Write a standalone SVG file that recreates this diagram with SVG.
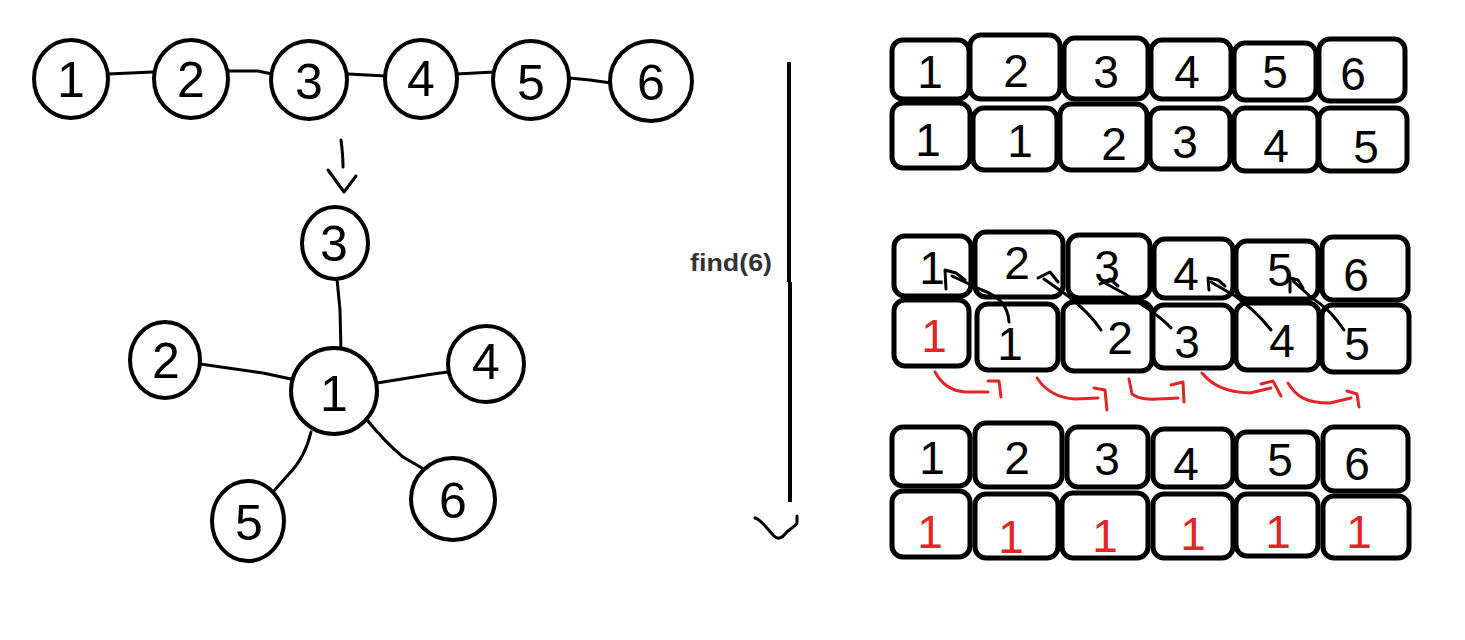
<svg xmlns="http://www.w3.org/2000/svg" width="1465" height="640" viewBox="0 0 1465 640">
<style>
.n{fill:#fff;stroke:#000;stroke-width:4}
.b{fill:#fff;stroke:#000;stroke-width:5}
.d{font-family:"Liberation Sans",Arial,sans-serif;font-size:50px;fill:#000;text-anchor:middle}
.t{font-family:"Liberation Sans",Arial,sans-serif;font-size:46px;fill:#000;text-anchor:middle}
.r{fill:#e42525}
.c{fill:none;stroke:#000;stroke-width:3;stroke-linecap:round;stroke-linejoin:round}
.rc{fill:none;stroke:#e42525;stroke-width:3;stroke-linecap:round;stroke-linejoin:round}
</style>
<rect width="1465" height="640" fill="#fff"/>
<g id="connectors">
<path class="c" d="M108,74 L153,72"/>
<path class="c" d="M229,71 L258,71 L272,74"/>
<path class="c" d="M348,74 L386,76"/>
<path class="c" d="M457,74 L494,72"/>
<path class="c" d="M569,78 L590,80 L611,83"/>
<path class="c" d="M341,140 Q343,155 343,167"/>
<path class="c" d="M328,170 L344,192 L356,176"/>
<path class="c" d="M337,279 L340,310 L341,352"/>
<path class="c" d="M200,364 L263,373 L291,379"/>
<path class="c" d="M377,383 L433,374 L448,372"/>
<path class="c" d="M311,432 Q305,458 288,475 L272,493"/>
<path class="c" d="M368,421 Q385,442 403,457 L422,468"/>
<path d="M789,62 L789,282 M790,282 L790,502" fill="none" stroke="#000" stroke-width="4"/>
<path class="c" d="M755,518 C762,520 768,530 774,536 C778,540 782,538 786,533 C790,528 794,528 797,523 L797,516"/>
</g>
<g id="label-find">
<text x="690" y="271" font-family="Liberation Sans,Arial,sans-serif" font-size="24" font-weight="bold" fill="#333" textLength="82" lengthAdjust="spacingAndGlyphs">find(6)</text>
</g>
<g id="chain">
<g id="chain-1"><ellipse class="n" cx="71" cy="79" rx="37" ry="39"/><text class="d" x="71" y="97">1</text></g>
<g id="chain-2"><ellipse class="n" cx="191" cy="79" rx="37" ry="39"/><text class="d" x="191" y="97">2</text></g>
<g id="chain-3"><ellipse class="n" cx="309" cy="80" rx="38" ry="39"/><text class="d" x="309" y="99">3</text></g>
<g id="chain-4"><ellipse class="n" cx="421" cy="79" rx="36" ry="39"/><text class="d" x="421" y="96">4</text></g>
<g id="chain-5"><ellipse class="n" cx="531" cy="80" rx="38" ry="39"/><text class="d" x="531" y="100">5</text></g>
<g id="chain-6"><ellipse class="n" cx="651" cy="81" rx="41" ry="40"/><text class="d" x="651" y="100">6</text></g>
</g>
<g id="tree">
<g id="tree-3"><ellipse class="n" cx="335" cy="243" rx="33" ry="36"/><text class="d" x="334" y="261">3</text></g>
<g id="tree-2"><ellipse class="n" cx="165" cy="360" rx="35" ry="38"/><text class="d" x="166" y="378">2</text></g>
<g id="tree-1"><ellipse class="n" cx="334" cy="391" rx="43" ry="43"/><text class="d" x="334" y="411">1</text></g>
<g id="tree-4"><ellipse class="n" cx="486" cy="364" rx="38" ry="38"/><text class="d" x="486" y="379">4</text></g>
<g id="tree-5"><ellipse class="n" cx="248" cy="521" rx="36" ry="40"/><text class="d" x="249" y="540">5</text></g>
<g id="tree-6"><ellipse class="n" cx="453" cy="499" rx="42" ry="41"/><text class="d" x="453" y="518">6</text></g>
</g>
<g id="table-1">
<g id="t1-a1"><rect class="b" x="892" y="40" width="77" height="59" rx="11"/><text class="t" x="930" y="88">1</text></g>
<g id="t1-a2"><rect class="b" x="970" y="35" width="90" height="64" rx="11"/><text class="t" x="1016" y="87">2</text></g>
<g id="t1-a3"><rect class="b" x="1064" y="38" width="84" height="61" rx="11"/><text class="t" x="1106" y="88">3</text></g>
<g id="t1-a4"><rect class="b" x="1151" y="40" width="80" height="59" rx="11"/><text class="t" x="1187" y="88">4</text></g>
<g id="t1-a5"><rect class="b" x="1234" y="43" width="82" height="57" rx="11"/><text class="t" x="1275" y="88">5</text></g>
<g id="t1-a6"><rect class="b" x="1319" y="39" width="86" height="62" rx="11"/><text class="t" x="1353" y="90">6</text></g>
<g id="t1-b1"><rect class="b" x="892" y="103" width="78" height="65" rx="11"/><text class="t" x="928" y="156">1</text></g>
<g id="t1-b2"><rect class="b" x="973" y="108" width="84" height="62" rx="11"/><text class="t" x="1020" y="157">1</text></g>
<g id="t1-b3"><rect class="b" x="1060" y="104" width="87" height="66" rx="11"/><text class="t" x="1114" y="160">2</text></g>
<g id="t1-b4"><rect class="b" x="1150" y="108" width="80" height="61" rx="11"/><text class="t" x="1185" y="158">3</text></g>
<g id="t1-b5"><rect class="b" x="1234" y="108" width="84" height="63" rx="11"/><text class="t" x="1276" y="162">4</text></g>
<g id="t1-b6"><rect class="b" x="1319" y="108" width="88" height="63" rx="11"/><text class="t" x="1366" y="163">5</text></g>
</g>
<g id="table-2">
<g id="t2-a1"><rect class="b" x="894" y="236" width="77" height="60" rx="11"/><text class="t" x="932" y="284">1</text></g>
<g id="t2-a2"><rect class="b" x="975" y="232" width="88" height="65" rx="11"/><text class="t" x="1017" y="279">2</text></g>
<g id="t2-a3"><rect class="b" x="1068" y="235" width="82" height="63" rx="11"/><text class="t" x="1107" y="283">3</text></g>
<g id="t2-a4"><rect class="b" x="1154" y="239" width="79" height="59" rx="11"/><text class="t" x="1186" y="290">4</text></g>
<g id="t2-a5"><rect class="b" x="1236" y="241" width="82" height="58" rx="11"/><text class="t" x="1280" y="286">5</text></g>
<g id="t2-a6"><rect class="b" x="1322" y="237" width="86" height="63" rx="11"/><text class="t" x="1356" y="291">6</text></g>
<g id="t2-b1"><rect class="b" x="894" y="300" width="75" height="66" rx="11"/><text class="t r" x="934" y="352">1</text></g>
<g id="t2-b2"><rect class="b" x="977" y="304" width="81" height="66" rx="11"/><text class="t" x="1010" y="360">1</text></g>
<g id="t2-b3"><rect class="b" x="1063" y="302" width="89" height="69" rx="11"/><text class="t" x="1120" y="354">2</text></g>
<g id="t2-b4"><rect class="b" x="1153" y="305" width="80" height="63" rx="11"/><text class="t" x="1187" y="358">3</text></g>
<g id="t2-b5"><rect class="b" x="1236" y="303" width="83" height="67" rx="11"/><text class="t" x="1282" y="357">4</text></g>
<g id="t2-b6"><rect class="b" x="1322" y="305" width="87" height="67" rx="11"/><text class="t" x="1357" y="360">5</text></g>
<g id="t2-links">
<path class="c" d="M1009,322 C1008,305 998,296 982,290 L952,276"/>
<path class="c" d="M946,289 L945,270 L956,273 L965,280"/>
<path class="c" d="M1101,330 C1093,318 1082,307 1068,296 L1044,279"/>
<path class="c" d="M1038,278 L1050,272 L1058,282"/>
<path class="c" d="M1171,328 C1160,316 1145,306 1125,294 L1105,283"/>
<path class="c" d="M1100,284 L1110,279 L1118,286"/>
<path class="c" d="M1271,330 C1260,316 1248,305 1235,296 L1211,282"/>
<path class="c" d="M1209,290 L1208,278 L1218,280 L1225,286"/>
<path class="c" d="M1344,330 C1336,318 1325,306 1312,298 L1293,281"/>
<path class="c" d="M1290,292 L1290,278 L1298,280 L1303,288"/>
</g>
<g id="t2-moves">
<path class="rc" d="M935,372 C942,385 952,391 965,392 L988,392"/>
<path class="rc" d="M988,381 L999,381 L1001,397"/>
<path class="rc" d="M1037,378 C1045,390 1058,398 1075,399 L1098,398"/>
<path class="rc" d="M1094,388 L1105,390 L1107,410"/>
<path class="rc" d="M1129,379 L1132,394 C1140,400 1150,400 1178,398"/>
<path class="rc" d="M1171,385 L1183,382 L1184,402"/>
<path class="rc" d="M1202,373 C1212,385 1225,392 1250,393 L1271,388"/>
<path class="rc" d="M1261,384 L1273,381 L1281,396"/>
<path class="rc" d="M1288,383 C1296,396 1305,403 1330,403 L1351,398"/>
<path class="rc" d="M1347,391 L1357,394 L1359,407"/>
</g>
</g>
<g id="table-3">
<g id="t3-a1"><rect class="b" x="892" y="427" width="78" height="59" rx="11"/><text class="t" x="932" y="474">1</text></g>
<g id="t3-a2"><rect class="b" x="975" y="423" width="87" height="64" rx="11"/><text class="t" x="1017" y="474">2</text></g>
<g id="t3-a3"><rect class="b" x="1067" y="427" width="81" height="60" rx="11"/><text class="t" x="1107" y="475">3</text></g>
<g id="t3-a4"><rect class="b" x="1153" y="429" width="80" height="58" rx="11"/><text class="t" x="1186" y="480">4</text></g>
<g id="t3-a5"><rect class="b" x="1236" y="432" width="82" height="55" rx="11"/><text class="t" x="1280" y="476">5</text></g>
<g id="t3-a6"><rect class="b" x="1323" y="427" width="85" height="64" rx="11"/><text class="t" x="1357" y="480">6</text></g>
<g id="t3-b1"><rect class="b" x="892" y="491" width="78" height="66" rx="11"/><text class="t r" x="930" y="548">1</text></g>
<g id="t3-b2"><rect class="b" x="975" y="494" width="83" height="64" rx="11"/><text class="t r" x="1011" y="553">1</text></g>
<g id="t3-b3"><rect class="b" x="1062" y="493" width="86" height="65" rx="11"/><text class="t r" x="1105" y="552">1</text></g>
<g id="t3-b4"><rect class="b" x="1153" y="494" width="80" height="64" rx="11"/><text class="t r" x="1193" y="550">1</text></g>
<g id="t3-b5"><rect class="b" x="1236" y="494" width="82" height="62" rx="11"/><text class="t r" x="1278" y="548">1</text></g>
<g id="t3-b6"><rect class="b" x="1323" y="496" width="86" height="62" rx="11"/><text class="t r" x="1359" y="548">1</text></g>
</g>
</svg>
